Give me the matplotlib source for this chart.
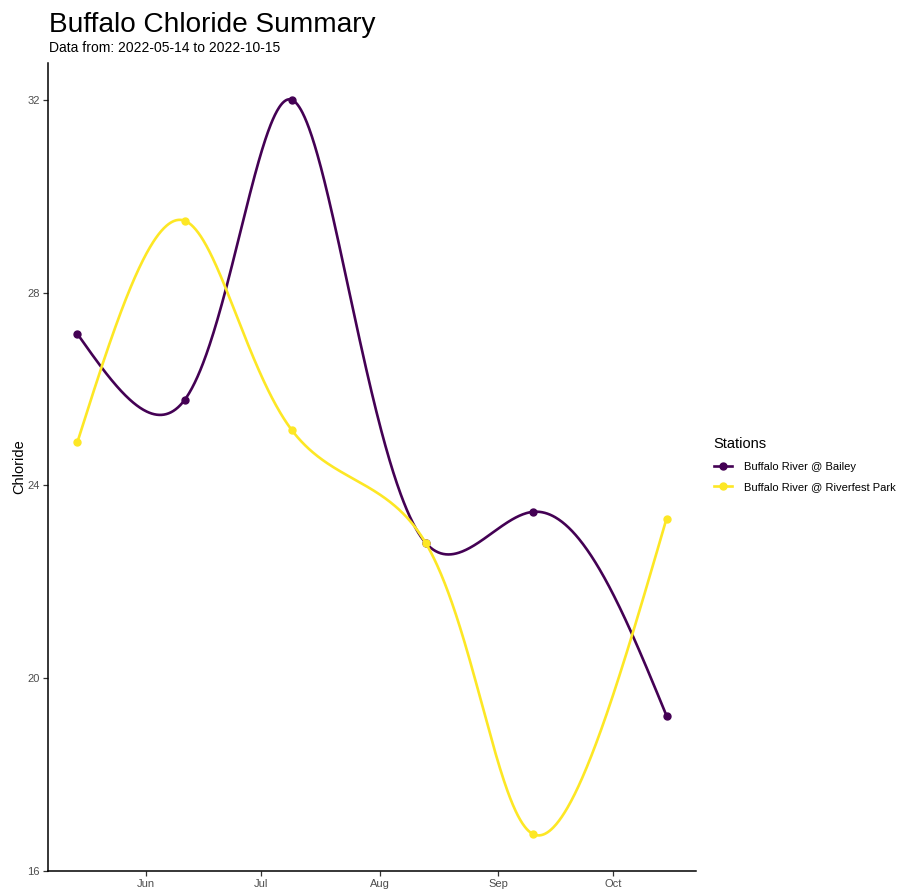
import numpy as np
import pandas as pd
import matplotlib
matplotlib.use("Agg")
import matplotlib.pyplot as plt
import matplotlib.dates as mdates

plt.rcParams['font.family'] = ['Liberation Sans', 'DejaVu Sans']

# sample dates and chloride readings
DATES = ["2022-05-14", "2022-06-11", "2022-07-09", "2022-08-13", "2022-09-10", "2022-10-15"]
BAILEY = [27.14, 25.77, 32.0, 22.81, 23.45, 19.22]
RIVERFEST = [24.90, 29.49, 25.15, 22.81, 16.77, 23.31]
STATIONS = ["Buffalo River @ Bailey", "Buffalo River @ Riverfest Park"]
COLORS = ["#440154", "#FDE725"]
Y_TICKS = [16, 20, 24, 28, 32]

ALPHA = 0.38  # chord length exponent for the smoothing curve


def natural_spline(x, y, xs):
    # natural cubic spline, second derivative zero at both ends
    x = np.asarray(x, float)
    y = np.asarray(y, float)
    n = len(x)
    h = np.diff(x)
    A = np.zeros((n, n))
    b = np.zeros(n)
    A[0, 0] = 1
    A[-1, -1] = 1
    for i in range(1, n - 1):
        A[i, i - 1] = h[i - 1]
        A[i, i] = 2 * (h[i - 1] + h[i])
        A[i, i + 1] = h[i]
        b[i] = 6 * ((y[i + 1] - y[i]) / h[i] - (y[i] - y[i - 1]) / h[i - 1])
    M = np.linalg.solve(A, b)
    idx = np.clip(np.searchsorted(x, xs) - 1, 0, n - 2)
    x0, x1 = x[idx], x[idx + 1]
    hh = x1 - x0
    t0 = x1 - xs
    t1 = xs - x0
    return (M[idx] * t0 ** 3 / (6 * hh) + M[idx + 1] * t1 ** 3 / (6 * hh)
            + (y[idx] / hh - M[idx] * hh / 6) * t0
            + (y[idx + 1] / hh - M[idx + 1] * hh / 6) * t1)


def smooth_curve(x, y):
    # parametric spline, parameter from scaled chord lengths
    px = np.asarray(x) * 3.85
    py = np.asarray(y) * 48.19
    d = np.hypot(np.diff(px), np.diff(py)) ** ALPHA
    t = np.concatenate([[0], np.cumsum(d)])
    ts = np.linspace(0, t[-1], 800)
    return natural_spline(t, x, ts), natural_spline(t, y, ts)


dates = pd.to_datetime(DATES)
xnum = mdates.date2num(dates)

fig = plt.figure(figsize=(9.01, 8.9), dpi=100)
ax = fig.add_axes([48 / 901, 19 / 890, 648 / 901, 808 / 890])

for vals, name, col in zip([BAILEY, RIVERFEST], STATIONS, COLORS):
    sx, sy = smooth_curve(xnum, vals)
    ax.plot(sx, sy, color=col, lw=1.9, solid_capstyle='round')
    ax.plot(xnum, vals, 'o', color=col, ms=5)
    # legend proxy
    ax.plot([], [], color=col, lw=1.9, marker='o', ms=5, label=name)

span = xnum[-1] - xnum[0]
ax.set_xlim(xnum[0] - 0.05 * span, xnum[-1] + 0.05 * span)
ylo, yhi = min(BAILEY + RIVERFEST), max(BAILEY + RIVERFEST)
ax.set_ylim(ylo - 0.05 * (yhi - ylo), yhi + 0.05 * (yhi - ylo))

ax.xaxis.set_major_locator(mdates.MonthLocator())
ax.xaxis.set_major_formatter(mdates.DateFormatter('%b'))
ax.set_yticks(Y_TICKS)

for s in ['top', 'right']:
    ax.spines[s].set_visible(False)
for s in ['left', 'bottom']:
    ax.spines[s].set_linewidth(1.1)
    ax.spines[s].set_color('black')
ax.tick_params(length=3.5, width=0.9, color='#333333', labelsize=8, labelcolor='#4D4D4D', pad=2.5)

ax.set_ylabel('Chloride', fontsize=10.5, labelpad=1)

fig.text(49 / 901, 1 - 32 / 890, 'Buffalo Chloride Summary', fontsize=20.2)
fig.text(49 / 901, 1 - 52 / 890, 'Data from: 2022-05-14 to 2022-10-15', fontsize=10)

leg = ax.legend(title='Stations', loc='center left', bbox_to_anchor=(1.012, 0.503),
                frameon=False, fontsize=8, title_fontsize=10.5,
                handlelength=1.6, handletextpad=1.1, labelspacing=0.95)
leg._legend_box.align = 'left'

fig.savefig('out.png', dpi=100)
